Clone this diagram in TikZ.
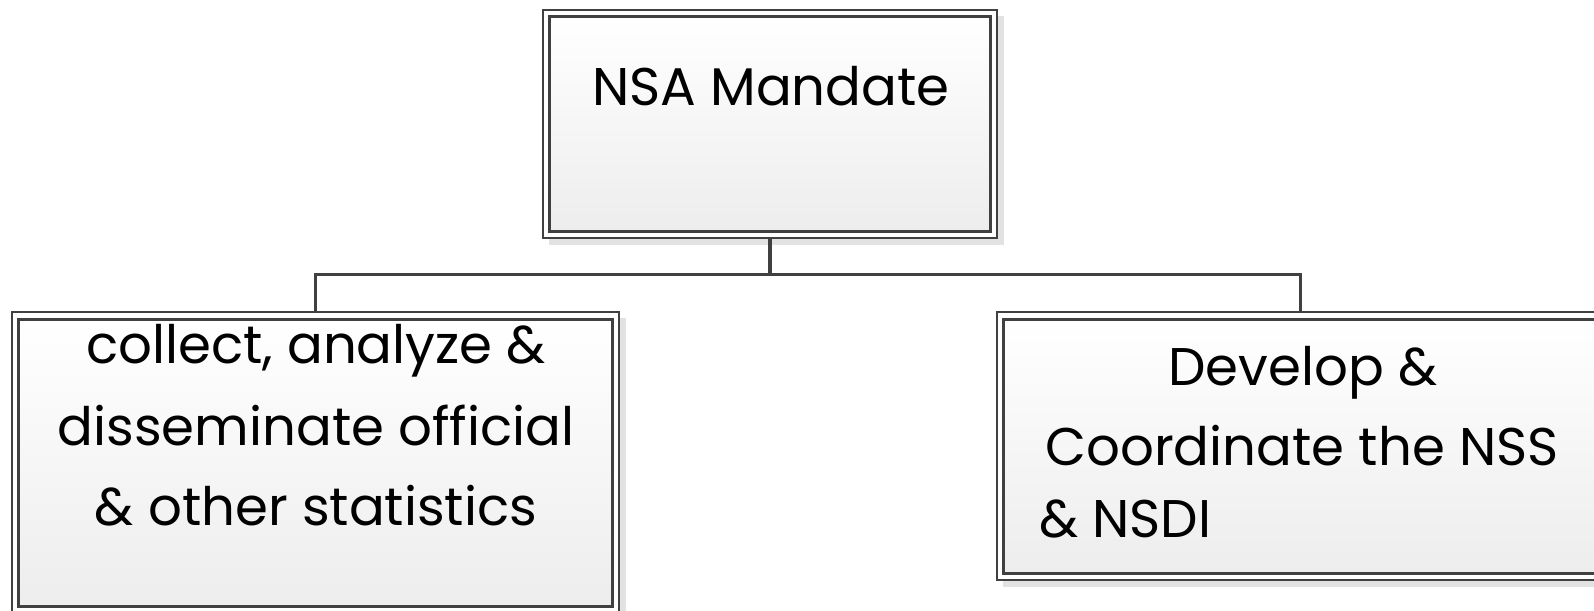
\documentclass[tikz,border=0pt]{standalone}
\usepackage{fontspec}
\setmainfont{Poppins}
\definecolor{linegray}{HTML}{404040}
\definecolor{boxbottom}{HTML}{EDEDED}
\definecolor{shadowgray}{HTML}{E2E2E2}
\tikzset{
  outerbox/.style={draw=linegray, line width=2.6pt, fill=white, inner sep=0pt, rectangle},
  innerbox/.style={draw=linegray, line width=3.2pt, top color=white, bottom color=boxbottom},
  shadowbox/.style={fill=shadowgray, draw=none},
  conn/.style={draw=linegray, line width=3.6pt},
  label/.style={anchor=base, inner sep=0pt, font=\fontsize{53}{60}\selectfont},
}
\begin{document}
\begin{tikzpicture}[x=1pt,y=-1pt]
\useasboundingbox (0,0) rectangle (1594,610);
\clip (0,0) rectangle (1594,610);
% shadows
\fill[shadowbox] (549,16) rectangle (1004,245);
\fill[shadowbox] (18,318) rectangle (626,620);
\fill[shadowbox] (1003,318) rectangle (1611,587);
% outer boxes
\node[outerbox, minimum width=454pt, minimum height=228pt] (top) at (770,124) {};
\node[outerbox, minimum width=607pt, minimum height=301pt] (left) at (315.5,462.5) {};
\node[outerbox, minimum width=607pt, minimum height=268pt] (right) at (1300.5,446) {};
% inner boxes
\draw[innerbox] ([shift={(8,8)}]top.north west) rectangle ([shift={(-8,-8)}]top.south east);
\draw[innerbox] ([shift={(8,9)}]left.north west) rectangle ([shift={(-8,-8)}]left.south east);
\draw[innerbox] ([shift={(8,9)}]right.north west) rectangle ([shift={(-8,-8)}]right.south east);
% connectors
\draw[conn] (top.south) -- ++(0,35) -| (left.north);
\draw[conn] (top.south) -- ++(0,35) -| (right.north);
% texts
\node[label] (t0) at (771,105) {NSA Mandate};
\node[label] (l1) at (316,363) {collect, analyze \&};
\node[label] (l2) at (316,445) {disseminate official};
\node[label] (l3) at (316,525) {\& other statistics};
\node[label] (r1) at (1303,385) {Develop \&};
\node[label] (r2) at (1302,465) {Coordinate the NSS};
\node[label, anchor=base west] (r3) at (1039,537) {\& NSDI};
\end{tikzpicture}
\end{document}
